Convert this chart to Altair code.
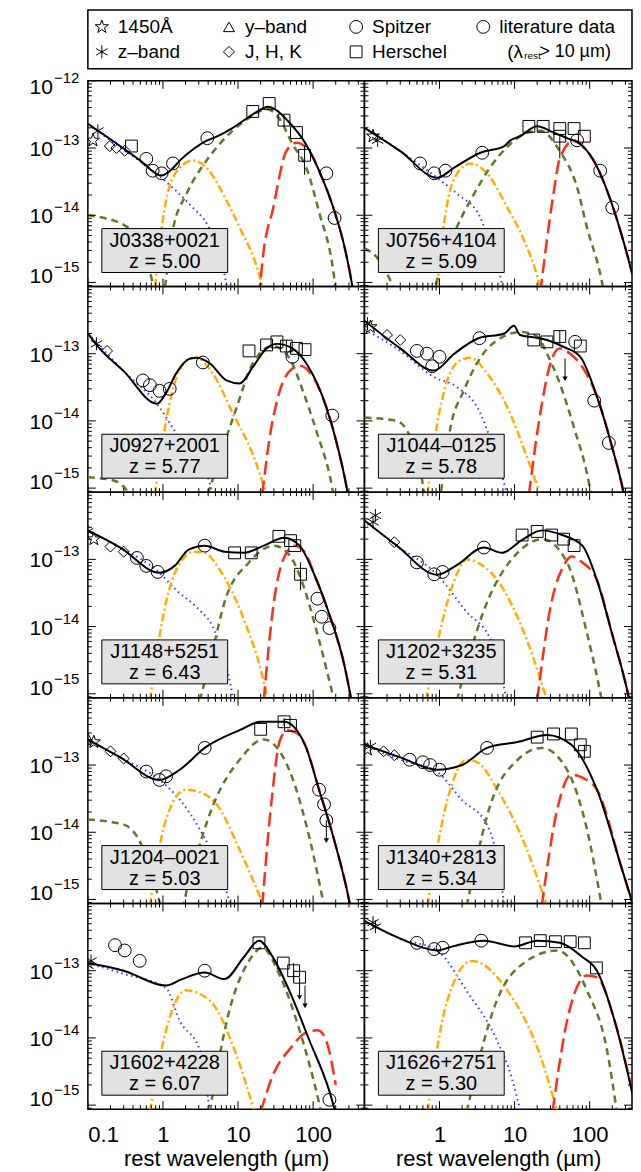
import math
import altair as alt
import pandas as pd

FONT = "Liberation Sans"

NAMES = ["J0338+0021", "J0756+4104", "J0927+2001", "J1044–0125", "J1148+5251",
         "J1202+3235", "J1204–0021", "J1340+2813", "J1602+4228", "J1626+2751"]
REDSHIFTS = ["5.00", "5.09", "5.77", "5.78", "6.43", "5.31", "5.03", "5.34", "6.07", "5.30"]

# ---------------- model curves: (rest wavelength [um], flux) ----------------
p1_total = [(0.1, 2.3e-13), (0.2, 1.35e-13), (0.5, 6.5e-14), (0.95, 3.9e-14), (1.3, 4.8e-14), (1.7, 6.6e-14),
            (2.5, 9.5e-14), (3.6, 1.25e-13), (5, 1.45e-13), (8.5, 2e-13), (14, 2.9e-13), (19, 3.6e-13),
            (25, 4.1e-13), (33, 3.6e-13), (45, 2.6e-13), (80, 1.15e-13), (120, 4.6e-14), (200, 1.0e-14),
            (260, 3.5e-15), (335, 8.5e-16), (420, 1.5e-16)]
p1_disk = [(0.1, 2.3e-13), (0.2, 1.3e-13), (0.5, 6.3e-14), (0.9, 3.8e-14), (1.5, 2.3e-14), (2.5, 1.3e-14),
           (3.8, 7.6e-15), (5.7, 2.7e-15), (7, 9.5e-16), (8, 4e-16)]
p1_hot = [(0.75, 5e-16), (0.85, 2e-15), (1.1, 1.66e-14), (1.67, 5.1e-14), (2.5, 6.5e-14), (3.8, 5.1e-14),
          (7, 1.66e-14), (10.5, 6.6e-15), (19, 1.35e-15), (25, 4e-16)]
p1_torus = [(0.1, 1.0e-14), (0.3, 7.2e-15), (0.5, 4e-15), (0.7, 1.2e-15), (0.85, 4e-16), (1.0, 6e-16),
            (1.35, 6e-15), (2.07, 2.1e-14), (3.8, 6.5e-14), (5.7, 1.15e-13), (14, 2.8e-13), (24, 3.8e-13),
            (35, 2.8e-13), (53, 1.15e-13), (81, 5.1e-14), (122, 1.05e-14), (183, 1.65e-15), (210, 5e-16)]
p1_cold = [(19, 6e-16), (22, 3e-15), (29, 1.2e-14), (44, 9e-14), (60, 1.2e-13), (89, 9e-14), (120, 4.6e-14),
           (200, 1.0e-14), (260, 3.5e-15), (335, 8.5e-16), (420, 1.5e-16)]

p2_total = [(0.1, 2e-13), (0.3, 9e-14), (0.93, 3.6e-14), (1.57, 5.1e-14), (3.5, 8.5e-14), (7.3, 1.07e-13),
            (8.8, 1.3e-13), (11.8, 1.5e-13), (20, 2.1e-13), (33, 1.7e-13), (50, 1.4e-13), (75, 1.15e-13),
            (113, 6.5e-14), (210, 1.2e-14), (300, 3.2e-15), (400, 9.5e-16)]
p2_disk = [(0.1, 2e-13), (0.3, 9e-14), (0.93, 3.6e-14), (1.7, 2.1e-14), (3.5, 9.3e-15), (4.7, 3.3e-15),
           (6.6, 1.07e-15), (7.5, 4e-16)]
p2_hot = [(0.9, 5e-16), (0.95, 1.1e-15), (1.27, 1.5e-14), (1.72, 4.2e-14), (2.6, 5.9e-14), (4.3, 4.2e-14),
          (8, 1.3e-14), (13.4, 4.2e-15), (21, 1e-15), (25, 4e-16)]
p2_torus = [(0.1, 3.2e-15), (0.14, 2.5e-15), (0.25, 8e-16), (0.4, 2e-16), (0.6, 2e-16), (0.85, 8e-16),
            (1.7, 6.6e-15), (2.9, 2.1e-14), (4.7, 5.1e-14), (8.8, 1.15e-13), (15, 1.7e-13), (22, 1.8e-13),
            (40, 9e-14), (68, 2.6e-14), (92, 6.6e-15), (138, 1.35e-15), (160, 6e-16)]
p2_cold = [(22, 7e-16), (33, 2.1e-14), (40, 7e-14), (62, 1.3e-13), (85, 1e-13), (113, 6.5e-14), (210, 1.2e-14),
           (300, 3.2e-15), (400, 9.5e-16)]

p3_total = [(0.1, 2e-13), (0.14, 1.23e-13), (0.3, 5.5e-14), (0.83, 1.8e-14), (1.1, 2.6e-14), (1.5, 5.1e-14),
            (2.3, 8.5e-14), (2.8, 8.7e-14), (4.2, 7.2e-14), (7, 4e-14), (10.5, 3.6e-14), (15.7, 6.3e-14),
            (24, 1.2e-13), (33, 1.4e-13), (53, 1.2e-13), (81, 7.2e-14), (150, 1.6e-14), (220, 3.5e-15),
            (285, 9e-16), (330, 3e-16)]
p3_disk = [(0.1, 2e-13), (0.3, 5.5e-14), (0.83, 1.8e-14), (1.35, 7.9e-15), (2.07, 3.6e-15), (3.8, 1.66e-15),
           (4.6, 8e-16)]
p3_hot = [(0.78, 8e-16), (1.1, 1e-14), (1.35, 2.9e-14), (2.07, 7.9e-14), (2.8, 8.7e-14), (4.6, 5.1e-14),
          (8.5, 1.3e-14), (15.7, 3.2e-15), (24, 8e-16)]
p3_torus = [(0.1, 1.45e-15), (0.22, 1.3e-15), (0.36, 8e-16), (0.6, 2e-16), (2, 2e-16), (3.9, 8e-16),
            (6.3, 4e-15), (9.6, 1.6e-14), (15.7, 7.2e-14), (29, 1.3e-13), (48, 8.7e-14), (73, 2.8e-14),
            (110, 7.2e-15), (180, 1e-15), (200, 5e-16)]
p3_cold = [(21, 8e-16), (26, 5.1e-15), (36, 2.8e-14), (53, 6e-14), (66, 6.6e-14), (100, 4.5e-14),
           (150, 1.6e-14), (220, 3.5e-15), (285, 9e-16), (330, 3e-16)]

p4_total = [(0.1, 3.1e-13), (0.3, 1.2e-13), (0.84, 5.6e-14), (1.57, 1e-13), (3.3, 1.7e-13), (7.3, 2e-13),
            (9.8, 2.6e-13), (11.8, 1.9e-13), (18, 1.75e-13), (27, 1.6e-13), (45, 1.26e-13), (75, 9e-14),
            (125, 2.3e-14), (200, 4e-15), (280, 9e-16), (320, 4e-16)]
p4_disk = [(0.1, 2.3e-13), (0.3, 1.1e-13), (0.84, 4.5e-14), (1.7, 3.2e-14), (3.5, 1.3e-14), (4.7, 5.6e-15),
           (8, 8e-16)]
p4_hot = [(0.69, 8e-16), (0.93, 9e-15), (1.27, 4e-14), (1.87, 7.9e-14), (2.6, 8.7e-14), (4.3, 5.1e-14),
          (8, 1.6e-14), (14.6, 2.9e-15), (22, 8e-16)]
p4_torus = [(0.1, 1.12e-14), (0.27, 1e-14), (0.4, 6e-15), (0.55, 2e-15), (0.7, 5e-16), (0.95, 5e-16),
            (1.15, 2e-15), (1.4, 8e-15), (2.1, 2.8e-14), (3.5, 8.7e-14), (5.9, 1.6e-13), (12, 2.1e-13),
            (20, 1.8e-13), (27, 1e-13), (40, 3.6e-14), (62, 7.9e-15), (92, 1.66e-15), (110, 6e-16)]
p4_cold = [(15.5, 8e-16), (22, 1.3e-14), (30, 7.2e-14), (40, 1.2e-13), (55, 1e-13), (75, 7e-14),
           (125, 2.3e-14), (200, 4e-15), (280, 9e-16), (320, 4e-16)]

p5_total = [(0.1, 2.7e-13), (0.27, 1.5e-13), (0.9, 6.3e-14), (1.43, 8e-14), (2.2, 1.4e-13), (3.6, 1.6e-13),
            (6.6, 1.3e-13), (12, 1.25e-13), (22, 1.6e-13), (41, 2.1e-13), (66, 1.6e-13), (104, 5.9e-14),
            (165, 1.5e-14), (260, 2.7e-15), (320, 8.5e-16), (360, 4e-16)]
p5_disk = [(0.1, 2.7e-13), (0.27, 1.5e-13), (0.9, 6.3e-14), (1.5, 3.5e-14), (3, 1.8e-14), (4.6, 1e-14),
           (6.5, 3.5e-15), (8.5, 9e-16), (9.5, 4e-16)]
p5_hot = [(0.67, 8e-16), (1.1, 2.3e-14), (1.6, 8e-14), (2.6, 1.3e-13), (3.6, 1.25e-13), (5.7, 7e-14),
          (12, 1.26e-14), (22, 1.5e-15), (27, 5e-16)]
p5_torus = [(3.1, 8e-16), (4.5, 4e-15), (6.6, 2.3e-14), (14, 9e-14), (30, 1.6e-13), (50, 1.1e-13),
            (66, 5.8e-14), (120, 6.3e-15), (190, 8e-16), (220, 4e-16)]
p5_cold = [(22, 8e-16), (30, 2.3e-14), (40, 1e-13), (57, 1.6e-13), (80, 1.2e-13), (104, 5.9e-14),
           (165, 1.5e-14), (260, 2.7e-15), (320, 8.5e-16), (360, 4e-16)]

p6_total = [(0.1, 3.8e-13), (0.27, 1.6e-13), (0.93, 5.9e-14), (1.72, 8.3e-14), (3.9, 1.5e-13), (6.8, 1.25e-13),
            (12.6, 1.95e-13), (23, 2.7e-13), (43, 2.3e-13), (80, 1.6e-13), (125, 4.9e-14), (200, 7.6e-15),
            (315, 1.15e-15), (370, 5e-16)]
p6_disk = [(0.1, 3.8e-13), (0.27, 1.6e-13), (0.93, 5.9e-14), (2.3, 1.65e-14), (4.8, 6.3e-15), (7.9, 8e-16),
           (9, 4e-16)]
p6_hot = [(0.66, 8e-16), (1.27, 2.3e-14), (1.7, 6e-14), (2.3, 1e-13), (3.2, 9e-14), (5.8, 5e-14),
          (14.6, 6.3e-15), (27, 8e-16)]
p6_torus = [(1.7, 8e-16), (4.3, 2.3e-14), (11, 1.26e-13), (23.5, 2e-13), (50, 9e-14), (92, 8e-15),
            (145, 8e-16), (170, 3e-16)]
p6_cold = [(20, 8e-16), (31, 2.3e-14), (45, 8e-14), (57, 1.1e-13), (80, 9e-14), (125, 4.9e-14),
           (200, 7.6e-15), (315, 1.15e-15), (370, 5e-16)]

p7_total = [(0.1, 2.4e-13), (0.27, 1.3e-13), (0.9, 6e-14), (1.67, 8.5e-14), (3.6, 1.8e-13), (10.5, 3.3e-13),
            (20, 4.4e-13), (41, 4.4e-13), (78, 2e-13), (120, 4.3e-14), (190, 7.8e-15), (300, 1e-15),
            (350, 4e-16)]
p7_disk = [(0.1, 2.4e-13), (0.27, 1.3e-13), (0.9, 6e-14), (1.7, 3e-14), (3.1, 1.1e-14), (5.7, 2.7e-15),
           (8, 8e-16)]
p7_hot = [(0.67, 8e-16), (1.1, 1.55e-14), (2.0, 4.3e-14), (3, 4e-14), (5.2, 2.6e-14), (10.5, 5.5e-15),
          (22, 8e-16)]
p7_torus = [(0.1, 1.55e-14), (0.3, 1.3e-14), (0.5, 7e-15), (0.8, 1.5e-15), (1.1, 5e-16), (1.6, 5e-16),
            (2.2, 1.8e-15), (4.9, 2.9e-14), (10.5, 1.2e-13), (22, 2.4e-13), (48, 8.5e-14), (90, 8e-15),
            (140, 8e-16)]
p7_cold = [(21, 8e-16), (28, 3e-14), (36, 2.3e-13), (45, 3.3e-13), (60, 3e-13), (78, 2e-13), (120, 4.3e-14),
           (190, 7.8e-15), (300, 1e-15), (350, 4e-16)]

p8_total = [(0.1, 2e-13), (0.3, 1.3e-13), (0.93, 8.5e-14), (2, 1e-13), (4.3, 1.8e-13), (11, 2.2e-13),
            (27, 2.8e-13), (57, 2e-13), (125, 4.3e-14), (270, 2.8e-15), (370, 9e-16)]
p8_disk = [(0.1, 2e-13), (0.3, 1.2e-13), (0.93, 7.9e-14), (2, 3e-14), (4.3, 1.3e-14), (6.9, 1.3e-15),
           (7.5, 6e-16)]
p8_hot = [(0.69, 8e-16), (1.27, 3e-14), (2.3, 1.2e-13), (3.2, 1.1e-13), (5.9, 4.3e-14), (14.6, 5.5e-15),
          (27, 8e-16)]
p8_torus = [(2.3, 8e-16), (5, 3e-14), (11, 1.2e-13), (23, 1.8e-13), (50, 8.5e-14), (92, 1.1e-14),
            (145, 8e-16)]
p8_cold = [(23, 8e-16), (37, 2.2e-14), (57, 7.2e-14), (80, 6.5e-14), (125, 4.3e-14), (270, 2.8e-15),
           (370, 9e-16)]

p9_total = [(0.1, 1.3e-13), (0.3, 1e-13), (1.1, 6e-14), (1.8, 7.5e-14), (3.6, 9.4e-14), (6.6, 7.5e-14),
            (12, 1.6e-13), (19, 2.8e-13), (30, 1.5e-13), (48, 5.1e-14), (90, 9e-15), (165, 1.6e-15),
            (220, 5e-16)]
p9_disk = [(0.1, 1.3e-13), (0.3, 9e-14), (1.1, 5.5e-14), (1.67, 1.8e-14), (3.1, 6.6e-15), (4.2, 8e-16)]
p9_hot = [(0.67, 8e-16), (1.1, 1.3e-14), (2, 5.1e-14), (4.2, 3.6e-14), (9, 6.6e-15), (16.5, 8e-16)]
p9_torus = [(4.2, 8e-16), (7.7, 2.6e-14), (14, 1.4e-13), (21, 2.2e-13), (36, 8.5e-14), (66, 1.3e-14),
            (122, 1e-15), (140, 5e-16)]
p9_cold = [(20, 8e-16), (30, 3e-15), (50, 7e-15), (80, 1.2e-14), (115, 1.3e-14), (150, 9e-15),
           (200, 2e-15)]

p10_total = [(0.1, 5.5e-13), (0.3, 3e-13), (0.93, 2e-13), (1.5, 2.3e-13), (3.9, 2.8e-13), (10, 2.3e-13),
             (20, 2.8e-13), (40, 2.6e-13), (80, 1.6e-13), (125, 1e-13), (215, 1.8e-14), (420, 8e-16)]
p10_disk = [(0.1, 5.5e-13), (0.3, 3e-13), (0.93, 2e-13), (2.3, 5e-14), (5.8, 9.3e-15), (9.2, 2.5e-15),
            (12, 8e-16)]
p10_hot = [(0.69, 8e-16), (1.27, 3.6e-14), (2.7, 1.4e-13), (8, 5.1e-14), (23, 4.7e-15), (37, 8e-16)]
p10_torus = [(2.3, 8e-16), (5.8, 3.6e-14), (14.6, 1.4e-13), (37, 2e-13), (92, 5.1e-14), (170, 6.6e-15),
             (230, 8e-16)]
p10_cold = [(32, 8e-16), (50, 1.8e-14), (92, 8.5e-14), (125, 8e-14), (215, 1.8e-14), (420, 8e-16)]

# ---------------- photometry: (kind, rest wavelength, flux) ----------------
p1_pts = [("star", 0.117, 1.3e-13), ("z", 0.136, 1.8e-13), ("jhk", 0.196, 1.07e-13), ("jhk", 0.24, 1.0e-13),
          ("jhk", 0.31, 9.1e-14), ("herschel", 0.38, 1.07e-13), ("spitzer", 0.6, 6.9e-14),
          ("spitzer", 0.73, 4.6e-14), ("spitzer", 0.96, 4.2e-14), ("spitzer", 1.36, 5.9e-14),
          ("spitzer", 3.9, 1.4e-13), ("herschel", 15.7, 3.5e-13), ("herschel", 26, 4.6e-13),
          ("herschel", 41, 2.6e-13), ("herschel", 60, 1.7e-13), ("herschel", 77, 7.8e-14),
          ("lit", 150, 4.2e-14), ("lit", 193, 9.1e-15)]
p2_pts = [("star", 0.13, 1.5e-13), ("z", 0.15, 1.3e-13), ("spitzer", 0.55, 5.9e-14), ("spitzer", 0.85, 4.2e-14),
          ("spitzer", 1.2, 4.6e-14), ("spitzer", 3.7, 8.5e-14), ("herschel", 15.5, 2.1e-13),
          ("herschel", 24, 2.1e-13), ("herschel", 40, 1.95e-13), ("herschel", 62, 1.95e-13),
          ("herschel", 40, 1.5e-13), ("herschel", 85, 1.5e-13), ("lit", 68, 1.3e-13), ("lit", 138, 4.6e-14),
          ("lit", 200, 1.3e-14)]
p3_pts = [("z", 0.13, 1.4e-13), ("jhk", 0.18, 1.1e-13), ("spitzer", 0.54, 4e-14), ("spitzer", 0.67, 3.4e-14),
          ("spitzer", 0.9, 2.8e-14), ("spitzer", 1.23, 3e-14), ("spitzer", 3.4, 7.4e-14),
          ("herschel", 14, 1.1e-13), ("herschel", 24, 1.35e-13), ("herschel", 33, 1.5e-13),
          ("herschel", 44, 1.3e-13), ("herschel", 60, 1.2e-13), ("herschel", 78, 1.15e-13),
          ("lit", 53, 9e-14), ("lit", 180, 1.2e-14)]
p4_pts = [("star", 0.12, 2.5e-13), ("z", 0.11, 2.8e-13), ("jhk", 0.2, 1.9e-13), ("jhk", 0.3, 1.6e-13),
          ("spitzer", 0.5, 1.1e-13), ("spitzer", 0.68, 1e-13), ("spitzer", 0.8, 6.5e-14),
          ("spitzer", 1.0, 9e-14), ("spitzer", 3.4, 1.7e-13), ("herschel", 18, 1.6e-13),
          ("herschel", 27, 1.5e-13), ("herschel", 40, 1.8e-13), ("herschel", 75, 1.3e-13),
          ("lit", 64, 1.5e-13), ("lit", 115, 2e-14), ("lit", 180, 4.7e-15)]
p5_pts = [("z", 0.1, 2.6e-13), ("star", 0.12, 2e-13), ("jhk", 0.2, 1.55e-13), ("jhk", 0.3, 1.3e-13),
          ("spitzer", 0.45, 1.05e-13), ("spitzer", 0.6, 8e-14), ("spitzer", 0.85, 6.5e-14),
          ("spitzer", 3.6, 1.6e-13), ("herschel", 9, 1.25e-13), ("herschel", 15, 1.25e-13),
          ("herschel", 35, 2.2e-13), ("herschel", 50, 1.9e-13), ("herschel", 57, 1.6e-13),
          ("herschel", 68, 6e-14),
          ("lit", 114, 2.6e-14), ("lit", 130, 1.4e-14), ("lit", 165, 9.5e-15)]
p6_pts = [("z", 0.14, 4.5e-13), ("z", 0.13, 3.6e-13), ("jhk", 0.25, 1.8e-13), ("spitzer", 0.5, 9e-14),
          ("spitzer", 0.85, 6e-14), ("spitzer", 1.1, 6.5e-14), ("spitzer", 3.9, 1.5e-13),
          ("herschel", 12.6, 2.3e-13), ("herschel", 20, 2.6e-13), ("herschel", 31, 2.3e-13),
          ("herschel", 45, 2e-13), ("herschel", 62, 1.6e-13)]
p7_pts = [("y", 0.1, 2.5e-13), ("star", 0.12, 2.2e-13), ("jhk", 0.2, 1.6e-13), ("jhk", 0.3, 1.25e-13),
          ("spitzer", 0.6, 8e-14), ("spitzer", 0.9, 6e-14), ("spitzer", 1.1, 6.8e-14),
          ("spitzer", 3.6, 1.8e-13), ("herschel", 20, 3.4e-13), ("herschel", 41, 4.4e-13),
          ("herschel", 50, 3.9e-13), ("lit", 120, 4.3e-14), ("lit", 140, 2.6e-14), ("lit", 150, 1.5e-14)]
p8_pts = [("z", 0.12, 1.9e-13), ("star", 0.11, 1.7e-13), ("jhk", 0.18, 1.6e-13), ("jhk", 0.25, 1.4e-13),
          ("spitzer", 0.4, 1.2e-13), ("spitzer", 0.6, 1.1e-13), ("spitzer", 0.75, 1e-13),
          ("spitzer", 1.0, 8.5e-14), ("spitzer", 4.3, 1.8e-13), ("herschel", 20, 2.6e-13),
          ("herschel", 33, 2.9e-13), ("herschel", 57, 2.9e-13), ("herschel", 75, 2e-13),
          ("herschel", 85, 1.6e-13)]
p9_pts = [("z", 0.1, 1.2e-13), ("z", 0.11, 1.4e-13), ("spitzer", 0.23, 2.4e-13), ("spitzer", 0.31, 2e-13),
          ("spitzer", 0.49, 1.4e-13), ("spitzer", 3.6, 1e-13), ("herschel", 19, 2.6e-13),
          ("herschel", 40, 1.3e-13), ("herschel", 55, 1e-13), ("herschel", 66, 8e-14),
          ("lit", 165, 1.2e-15)]
p10_pts = [("z", 0.13, 5.2e-13), ("z", 0.14, 4.5e-13), ("spitzer", 0.5, 2.6e-13), ("spitzer", 0.85, 2.1e-13),
           ("spitzer", 1.1, 2.2e-13), ("spitzer", 3.6, 2.8e-13), ("herschel", 14, 2.6e-13),
           ("herschel", 22, 2.8e-13), ("herschel", 35, 2.7e-13), ("herschel", 55, 2.7e-13),
           ("herschel", 85, 2.6e-13), ("herschel", 123, 1.1e-13)]

# error bars: (wavelength, low, high); upper limits: (wavelength, flux)
p1_err = [(77, 4e-14, 1.1e-13), (41, 2.1e-13, 3.1e-13)]
p2_err = [(40, 7e-14, 1.5e-13)]
p3_err = [(44, 1.05e-13, 1.6e-13)]
p4_err = [(40, 1.4e-13, 2.2e-13)]
p5_err = [(68, 3.5e-14, 9e-14)]
p6_err = []
p7_err = [(41, 3.8e-13, 5e-13)]
p8_err = [(85, 1.2e-13, 2e-13)]
p9_err = [(55, 7e-14, 1.3e-13)]
p10_err = []
p4_lim = [(47, 8.5e-14)]
p7_lim = [(150, 1.5e-14)]
p9_lim = [(66, 8e-14), (78, 6e-14)]

CURVES = [
    dict(total=p1_total, disk=p1_disk, hot=p1_hot, torus=p1_torus, cold=p1_cold),
    dict(total=p2_total, disk=p2_disk, hot=p2_hot, torus=p2_torus, cold=p2_cold),
    dict(total=p3_total, disk=p3_disk, hot=p3_hot, torus=p3_torus, cold=p3_cold),
    dict(total=p4_total, disk=p4_disk, hot=p4_hot, torus=p4_torus, cold=p4_cold),
    dict(total=p5_total, disk=p5_disk, hot=p5_hot, torus=p5_torus, cold=p5_cold),
    dict(total=p6_total, disk=p6_disk, hot=p6_hot, torus=p6_torus, cold=p6_cold),
    dict(total=p7_total, disk=p7_disk, hot=p7_hot, torus=p7_torus, cold=p7_cold),
    dict(total=p8_total, disk=p8_disk, hot=p8_hot, torus=p8_torus, cold=p8_cold),
    dict(total=p9_total, disk=p9_disk, hot=p9_hot, torus=p9_torus, cold=p9_cold),
    dict(total=p10_total, disk=p10_disk, hot=p10_hot, torus=p10_torus, cold=p10_cold),
]
POINTS = [p1_pts, p2_pts, p3_pts, p4_pts, p5_pts, p6_pts, p7_pts, p8_pts, p9_pts, p10_pts]
ERRS = [p1_err, p2_err, p3_err, p4_err, p5_err, p6_err, p7_err, p8_err, p9_err, p10_err]
LIMS = [[], [], [], p4_lim, [], [], p7_lim, [], p9_lim, []]

X_TICKS_MAJOR = [0.1, 1, 10, 100]
X_TICKS_MINOR = [k * 10.0 ** e for e in range(-1, 3) for k in range(2, 10)]
Y_TICKS_MAJOR = [1e-15, 1e-14, 1e-13, 1e-12]
Y_TICKS_MINOR = [k * 10.0 ** e for e in range(-16, -12) for k in range(2, 10)]

LEG_KINDS = ["star", "y", "spitzer", "lit", "z", "jhk", "herschel"]
LEG_TEXT = ["1450Å", "y–band", "Spitzer", "literature data", "z–band", "J, H, K", "Herschel"]
LEG_COL = [0, 1, 2, 3, 0, 1, 2]
LEG_ROW = [0, 0, 0, 0, 1, 1, 1]

# ---------------- styles ----------------
STAR = ("M0,-1L0.235,-0.324L0.951,-0.309L0.38,0.124L0.588,0.809L0,0.4L-0.588,0.809"
        "L-0.38,0.124L-0.951,-0.309L-0.235,-0.324Z")
ASTER = "M0,-1L0,1M-0.87,-0.5L0.87,0.5M-0.87,0.5L0.87,-0.5"
SHAPE = {"star": STAR, "z": ASTER, "y": "triangle-up", "jhk": "diamond",
         "spitzer": "circle", "herschel": "square", "lit": "circle"}
SIZE = {"star": 190, "z": 170, "y": 120, "jhk": 120, "spitzer": 165, "herschel": 140, "lit": 165}

STYLE = {
    "disk": dict(color="#3b3bff", strokeDash=[1.5, 3.5], strokeWidth=2),
    "hot": dict(color="#ffad00", strokeDash=[8, 3, 2, 3], strokeWidth=2.5),
    "torus": dict(color="#5d7a2b", strokeDash=[7, 5], strokeWidth=2.5),
    "cold": dict(color="#ff2d1a", strokeDash=[14, 6], strokeWidth=2.5),
    "total": dict(color="black", strokeWidth=2),
}
ORDER = ["disk", "hot", "torus", "cold", "total"]

PX_PER_DEC = 75.2
H = 206
WIDTHS = [277, 268]
YMIN = 10 ** (-15.06)


def panel(i):
    col, row = i % 2, i // 2
    w = WIDTHS[col]
    xs = alt.Scale(type="log", domain=[0.1, 0.1 * 10 ** (w / PX_PER_DEC)], nice=False)
    ys = alt.Scale(type="log", domain=[YMIN, 1e-12], nice=False)
    if row == 4:
        xaxis = alt.Axis(values=X_TICKS_MAJOR if col == 0 else X_TICKS_MAJOR[1:], format="~g",
                         ticks=False, domain=False, grid=False, labelFont=FONT, labelFontSize=22,
                         labelColor="black", labelPadding=15, title="rest wavelength (µm)",
                         titleFont=FONT, titleFontSize=22, titleFontWeight="normal",
                         titleColor="black", titlePadding=3)
    else:
        xaxis = None

    def X(f):
        return alt.X(f, type="quantitative", scale=xs, axis=xaxis)

    def Y(f):
        return alt.Y(f, type="quantitative", scale=ys, axis=None)

    layers = []
    for comp in ORDER:
        df = pd.DataFrame(CURVES[i][comp], columns=["lam", "flux"])
        layers.append(alt.Chart(df).mark_line(clip=True, interpolate="monotone", **STYLE[comp])
                      .encode(x=X("lam"), y=Y("flux")))
    if ERRS[i]:
        e = pd.DataFrame(ERRS[i], columns=["lam", "lo", "hi"])
        layers.append(alt.Chart(e).mark_rule(color="black", strokeWidth=1, clip=True)
                      .encode(x=X("lam"), y=Y("lo"), y2=alt.Y2("hi")))
    if LIMS[i]:
        lm = pd.DataFrame(LIMS[i], columns=["lam", "flux"])
        lm["tip"] = lm["flux"] * 0.5
        layers.append(alt.Chart(lm).mark_rule(color="black", strokeWidth=1, clip=True)
                      .encode(x=X("lam"), y=Y("flux"), y2=alt.Y2("tip")))
        layers.append(alt.Chart(lm).mark_point(shape="triangle-down", size=28, filled=True, color="black",
                                               opacity=1, clip=True)
                      .encode(x=X("lam"), y=Y("tip")))
    pts = pd.DataFrame(POINTS[i], columns=["kind", "lam", "flux"])
    for kind in SHAPE:
        sub = pts[pts["kind"] == kind]
        if len(sub):
            layers.append(alt.Chart(sub).mark_point(shape=SHAPE[kind], size=SIZE[kind], filled=False,
                                                    color="black", strokeWidth=1, opacity=1, clip=True)
                          .encode(x=X("lam"), y=Y("flux")))
    xmaj = pd.DataFrame({"t": X_TICKS_MAJOR})
    xmin = pd.DataFrame({"t": X_TICKS_MINOR})
    ymaj = pd.DataFrame({"t": Y_TICKS_MAJOR})
    ymin = pd.DataFrame({"t": Y_TICKS_MINOR})
    for d, ln in ((xmaj, 8), (xmin, 4)):
        layers.append(alt.Chart(d).mark_rule(color="black", strokeWidth=1, clip=True)
                      .encode(x=X("t"), y=alt.value(H), y2=alt.value(H - ln)))
        layers.append(alt.Chart(d).mark_rule(color="black", strokeWidth=1, clip=True)
                      .encode(x=X("t"), y=alt.value(0), y2=alt.value(ln)))
    for d, ln in ((ymaj, 8), (ymin, 4)):
        layers.append(alt.Chart(d).mark_rule(color="black", strokeWidth=1, clip=True)
                      .encode(y=Y("t"), x=alt.value(0), x2=alt.value(ln)))
        layers.append(alt.Chart(d).mark_rule(color="black", strokeWidth=1, clip=True)
                      .encode(y=Y("t"), x=alt.value(w), x2=alt.value(w - ln)))
    lab = pd.DataFrame({"name": [NAMES[i]], "z": ["z = " + REDSHIFTS[i]]})
    layers.append(alt.Chart(lab).mark_rect(fill="#e2e2e2", stroke="black", strokeWidth=1)
                  .encode(x=alt.value(14), x2=alt.value(140), y=alt.value(148), y2=alt.value(192)))
    layers.append(alt.Chart(lab).mark_text(font=FONT, fontSize=20, color="black", baseline="middle")
                  .encode(x=alt.value(77), y=alt.value(160), text="name:N"))
    layers.append(alt.Chart(lab).mark_text(font=FONT, fontSize=20, color="black", baseline="middle")
                  .encode(x=alt.value(77), y=alt.value(181), text="z:N"))
    if col == 0:
        groups = [([1e-13, 1e-14], 2), ([1e-15], -5)]
        if row == 0:
            groups.append(([1e-12], 7))
        for vals, dy in groups:
            d = pd.DataFrame({"v": vals, "e": ["−%d" % round(-math.log10(v)) for v in vals]})
            layers.append(alt.Chart(d).mark_text(text="10", font=FONT, fontSize=21, color="black",
                                                 align="right", baseline="middle", dy=dy)
                          .encode(x=alt.value(-35), y=Y("v")))
            layers.append(alt.Chart(d).mark_text(font=FONT, fontSize=15, color="black",
                                                 align="left", baseline="middle", dy=dy - 10)
                          .encode(x=alt.value(-34), y=Y("v"), text="e:N"))
    return alt.layer(*layers).properties(width=w, height=H)


def legend():
    d = pd.DataFrame({"kind": LEG_KINDS, "text": LEG_TEXT, "col": LEG_COL, "row": LEG_ROW})
    xs = alt.Scale(domain=[0, 3], range=[14, 396])
    ys = alt.Scale(domain=[0, 1], range=[17, 42])
    enc = dict(x=alt.X("col:Q", scale=xs, axis=None), y=alt.Y("row:Q", scale=ys, axis=None))
    layers = []
    for kind in LEG_KINDS:
        sub = d[d["kind"] == kind]
        layers.append(alt.Chart(sub).mark_point(shape=SHAPE[kind], size=SIZE[kind], filled=False,
                                                color="black", strokeWidth=1, opacity=1).encode(**enc))
    layers.append(alt.Chart(d).mark_text(font=FONT, fontSize=19, color="black", align="left",
                                         baseline="middle", dx=16).encode(text="text:N", **enc))
    extra = pd.DataFrame({"col": [3], "row": [1]})
    layers.append(alt.Chart(extra).mark_text(text="(λ", font=FONT, fontSize=19, color="black",
                                             align="left", baseline="middle", dx=24).encode(**enc))
    layers.append(alt.Chart(extra).mark_text(text="rest", font=FONT, fontSize=10, color="black",
                                             align="left", baseline="middle", dx=41, dy=4).encode(**enc))
    layers.append(alt.Chart(extra).mark_text(text=" > 10 µm)", font=FONT, fontSize=18, color="black",
                                             align="left", baseline="middle", dx=56).encode(**enc))
    return alt.layer(*layers).properties(width=sum(WIDTHS), height=59)


grid = alt.concat(*[panel(i) for i in range(10)], columns=2, spacing=0, bounds="flush", align="each")
chart = alt.vconcat(legend(), grid, spacing=0).properties(
    padding={"left": 20, "top": 0, "right": 0, "bottom": 0}
).configure_view(stroke="black", strokeWidth=1.5)

chart.save("out.html", embed_options={"renderer": "svg", "actions": False})
